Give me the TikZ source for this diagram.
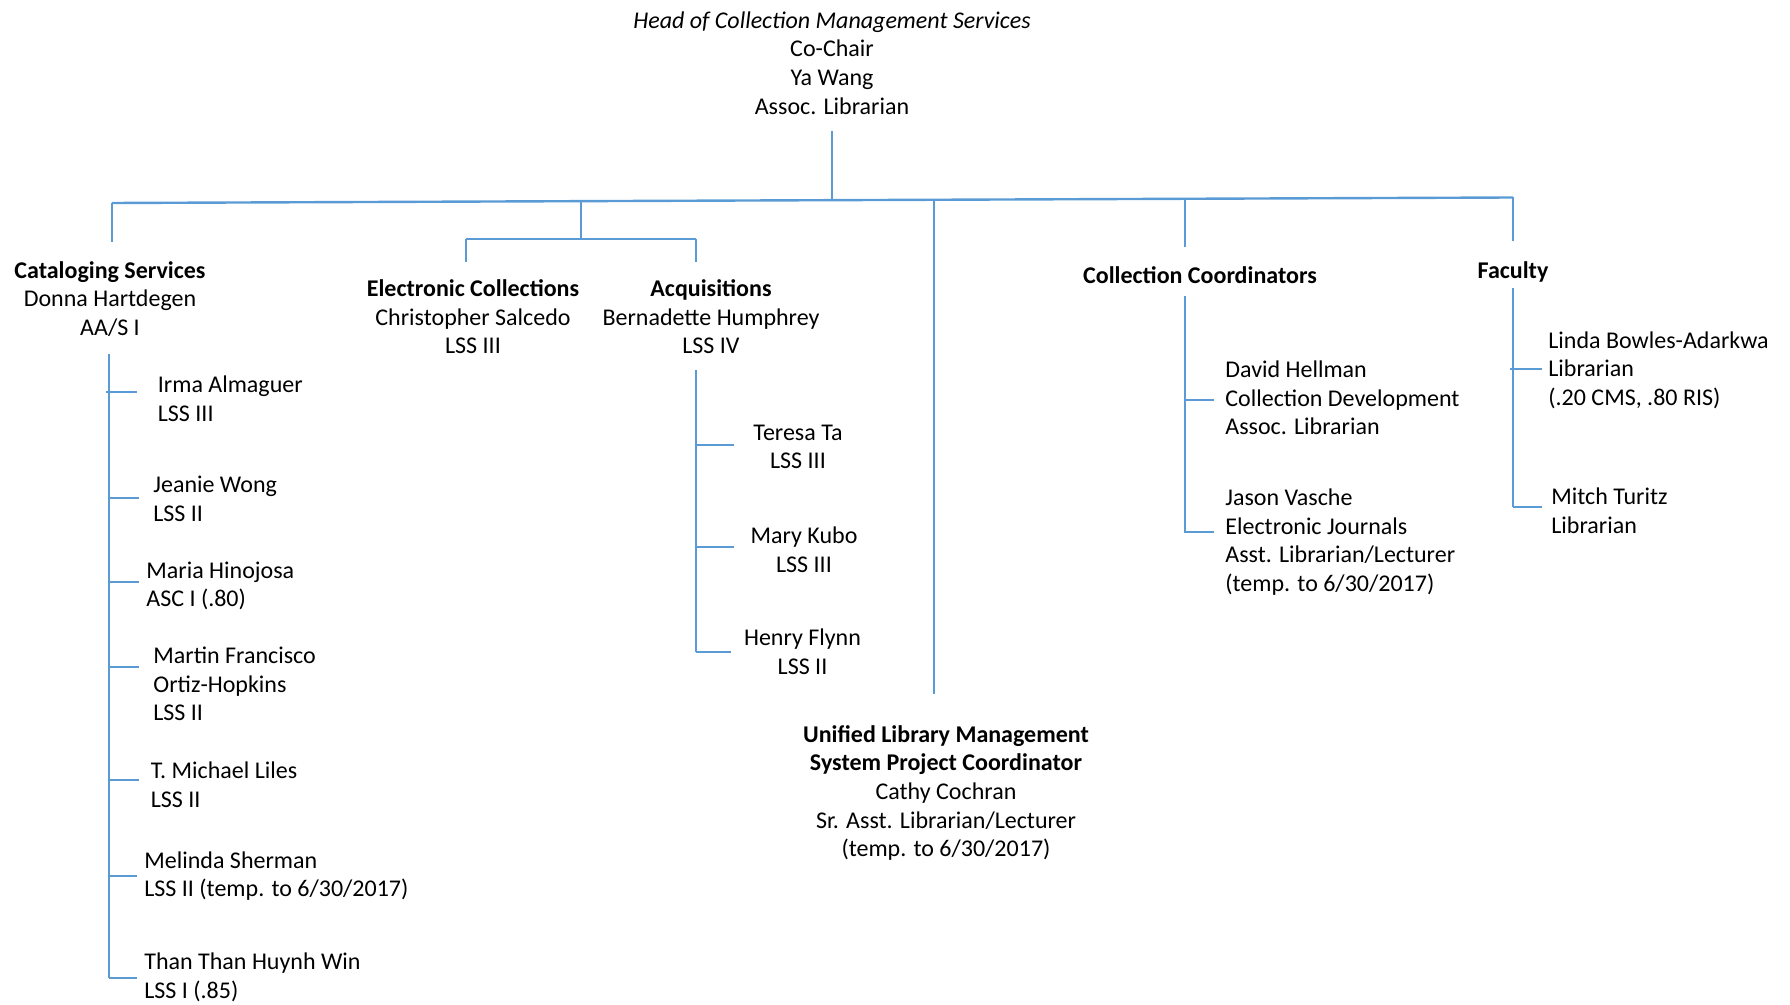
\documentclass[tikz,border=0pt]{standalone}
\usepackage{fontspec}
\setmainfont{Carlito}
\definecolor{lineblue}{RGB}{91,155,213}
\begin{document}
\begin{tikzpicture}[x=0.5pt,y=-0.5pt,
  lbl/.style={inner sep=0pt, font=\fontsize{12}{14.3}\selectfont, align=center},
  lbll/.style={lbl, align=left, anchor=west},
  ln/.style={draw=lineblue, line width=0.75pt},
  busln/.style={draw=lineblue, line width=1.2pt}]
\useasboundingbox (0,0) rectangle (1790,1005);
% nodes
\node[lbl] (head) at (832,63) {\textit{Head of Collection Management Services}\\Co-Chair\\Ya Wang\\Assoc. Librarian};
\node[lbl] (cat) at (110,299) {\textbf{Cataloging Services}\\Donna Hartdegen\\AA/S I};
\node[lbl] (ec) at (473,317) {\textbf{Electronic Collections}\\Christopher Salcedo\\LSS III};
\node[lbl] (acq) at (711,317) {\textbf{Acquisitions}\\Bernadette Humphrey\\LSS IV};
\node[lbl] (cc) at (1200,275) {\textbf{Collection Coordinators}};
\node[lbl] (fac) at (1513,272) {\textbf{Faculty}};
\node[lbl] (ulm) at (946,793) {\textbf{Unified Library Management}\\\textbf{System Project Coordinator}\\Cathy Cochran\\Sr. Asst. Librarian/Lecturer\\(temp. to 6/30/2017)};
\node[lbll] (irma) at (157.5,399) {Irma Almaguer\\LSS III};
\node[lbll] (jeanie) at (153,499) {Jeanie Wong\\LSS II};
\node[lbll] (maria) at (146,586) {Maria Hinojosa\\ASC I (.80)};
\node[lbll] (martin) at (153,684) {Martin Francisco\\Ortiz-Hopkins\\LSS II};
\node[lbll] (michael) at (150.5,785) {T. Michael Liles\\LSS II};
\node[lbll] (melinda) at (144,876) {Melinda Sherman\\LSS II (temp. to 6/30/2017)};
\node[lbll] (than) at (144,977.5) {Than Than Huynh Win\\LSS I (.85)};
\node[lbl] (teresa) at (798,447) {Teresa Ta\\LSS III};
\node[lbl] (mary) at (804,549.5) {Mary Kubo\\LSS III};
\node[lbl] (henry) at (802.5,652) {Henry Flynn\\LSS II};
\node[lbll] (david) at (1225,398) {David Hellman\\Collection Development\\Assoc. Librarian};
\node[lbll] (jason) at (1225,542) {Jason Vasche\\Electronic Journals\\Asst. Librarian/Lecturer\\(temp. to 6/30/2017)};
\node[lbll] (linda) at (1548,370) {Linda Bowles-Adarkwa\\Librarian\\(.20 CMS, .80 RIS)};
\node[lbll] (mitch) at (1551,511) {Mitch Turitz\\Librarian};
% coordinates
\coordinate (hTop) at (832,131);
\coordinate (hBot) at (832,200);
\coordinate (busL) at (112,203);
\coordinate (busR) at (1513,197.5);
\coordinate (catT) at (112,242);
\coordinate (midA) at (581,201.2);
\coordinate (midB) at (581,239);
\coordinate (ecJ) at (466,239);
\coordinate (ecB) at (466,262);
\coordinate (acJ) at (696,239);
\coordinate (acB) at (696,262);
\coordinate (ulA) at (934,199.8);
\coordinate (ulB) at (934,694);
\coordinate (ccA) at (1185,198.8);
\coordinate (ccB) at (1185,247);
\coordinate (faB) at (1513,241);
% cataloging spine
\coordinate (cvT) at (109,354);
\coordinate (cvB) at (109,978);
% acquisitions spine
\coordinate (avT) at (696,370);
\coordinate (avB) at (696,652);
% coordinators spine
\coordinate (kvT) at (1185,296);
\coordinate (kvB) at (1185,533);
% faculty spine
\coordinate (fvT) at (1513,288);
\coordinate (fvB) at (1513,507);
% top lines
\draw[ln] (hTop) -- (hBot);
\draw[busln] (busL) -- (busR);
\draw[ln] (busL) -- (catT);
\draw[ln] (midA) -- (midB);
\draw[busln] (ecJ) -- (acJ);
\draw[ln] (ecJ) -- (ecB);
\draw[ln] (acJ) -- (acB);
\draw[ln] (ulA) -- (ulB);
\draw[ln] (ccA) -- (ccB);
\draw[ln] (busR) -- (faB);
% cataloging
\draw[ln] (cvT) -- (cvB);
\draw[ln] (106,392) -- (137,392);
\draw[ln] (109,498) -- (139,498);
\draw[ln] (109,582) -- (139,582);
\draw[ln] (109,667) -- (139,667);
\draw[ln] (109,780) -- (139,780);
\draw[ln] (109,876) -- (137,876);
\draw[ln] (109,978) -- (137,978);
% acquisitions
\draw[ln] (avT) -- (avB);
\draw[ln] (696,445) -- (734,445);
\draw[ln] (696,547) -- (734,547);
\draw[ln] (696,652) -- (731,652);
% coordinators
\draw[ln] (kvT) -- (kvB);
\draw[ln] (1185,400) -- (1214,400);
\draw[ln] (1185,532) -- (1214,532);
% faculty
\draw[ln] (fvT) -- (fvB);
\draw[ln] (1510,369) -- (1542,369);
\draw[ln] (1513,507) -- (1542,507);
\end{tikzpicture}
\end{document}
